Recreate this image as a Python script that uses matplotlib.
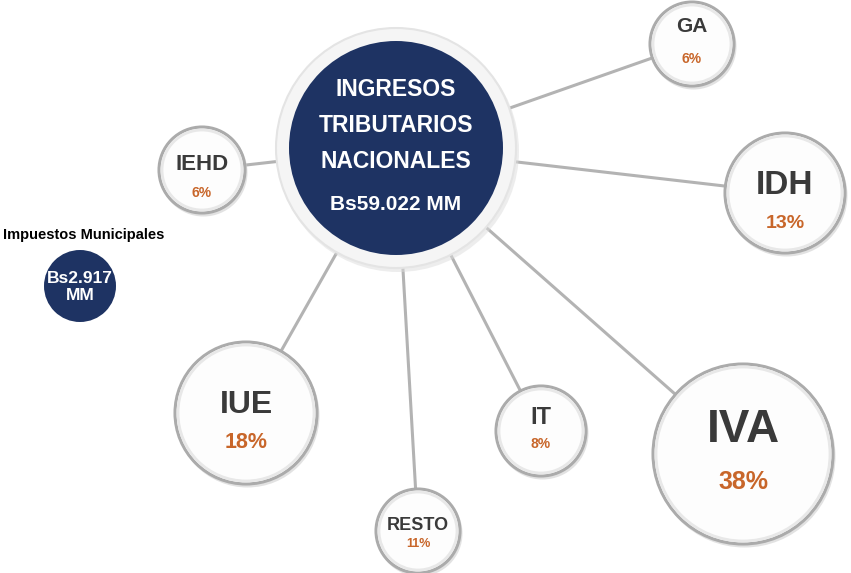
import matplotlib
matplotlib.use("Agg")
import matplotlib.pyplot as plt
from matplotlib.patches import Circle
from matplotlib import font_manager

names = {f.name for f in font_manager.fontManager.ttflist}
FAM = ['Liberation Sans Narrow', 'DejaVu Sans'] if 'Liberation Sans Narrow' in names else ['Liberation Sans', 'DejaVu Sans']
NARROW = 'Liberation Sans Narrow' in names

# data
categories = ["GA", "IEHD", "IDH", "IUE", "RESTO", "IT", "IVA"]
shares = ["6%", "6%", "13%", "18%", "11%", "8%", "38%"]
center_title = ["INGRESOS", "TRIBUTARIOS", "NACIONALES"]
center_value = "Bs59.022 MM"
muni_title = "Impuestos Municipales"
muni_value = "Bs2.917\nMM"

# layout (pixel coords): x, y, radius, label dy, share dy
pos = {"GA": (692, 44, 42, -18, 15), "IEHD": (202, 170, 43, -6, 23),
       "IDH": (785, 193, 60, -7, 30), "IUE": (246, 413, 71, -8, 30),
       "RESTO": (418, 531, 42, -6, 13), "IT": (541, 431, 45, -14, 13),
       "IVA": (743, 454, 90, -24, 28)}
fs = {"GA": (15, 10), "IEHD": (16, 10), "IDH": (24, 14), "IUE": (23, 15.5),
      "RESTO": (13, 9), "IT": (17, 10), "IVA": (33, 18)}
if NARROW:
    fs = {k: (a * 1.2, b * 1.2) for k, (a, b) in fs.items()}
main = (396, 148, 107)

NAVY = "#1e3363"
ORANGE = "#c8662a"
DARK = "#3a3a3a"

fig = plt.figure(figsize=(8.51, 5.73), dpi=100)
ax = fig.add_axes([0, 0, 1, 1])
ax.set_xlim(0, 851)
ax.set_ylim(573, 0)
ax.set_aspect('equal')
ax.axis('off')

# connectors
for c in categories:
    x, y = pos[c][:2]
    ax.plot([main[0], x], [main[1], y], color="#b3b3b3", lw=2.2, zorder=1, solid_capstyle='butt')

# main circle
mx, my, mr = main
ax.add_patch(Circle((mx + 2, my + 3), mr + 14, color="#dcdcdc", alpha=0.5, zorder=2, lw=0))
ax.add_patch(Circle((mx, my), mr + 13, facecolor="#f5f5f5", edgecolor="#e4e4e4", lw=1.5, zorder=3))
ax.add_patch(Circle((mx, my), mr, facecolor=NAVY, edgecolor="none", zorder=4))
for line, yy in zip(center_title, [90, 126, 161]):
    ax.text(mx, yy, line, ha='center', va='center', color='white', fontsize=16.5,
            fontweight='bold', family=FAM, zorder=5)
ax.text(mx, 205, center_value, ha='center', va='center', color='white', fontsize=15,
        fontweight='bold', family=FAM, zorder=5)

# bubbles
for c, s in zip(categories, shares):
    x, y, r, d1, d2 = pos[c]
    f1, f2 = fs[c]
    ax.add_patch(Circle((x + 1.5, y + 2.5), r + 1, color="#cfcfcf", alpha=0.6, zorder=2, lw=0))
    ax.add_patch(Circle((x, y), r, facecolor="#fdfdfd", edgecolor="#ababab", lw=2.2, zorder=3))
    ax.add_patch(Circle((x, y), r - 3, facecolor="none", edgecolor="#e8e8e8", lw=2.0, zorder=3))
    ax.text(x, y + d1, c, ha='center', va='center', color=DARK, fontsize=f1,
            fontweight='bold', family=FAM, zorder=5)
    ax.text(x, y + d2, s, ha='center', va='center', color=ORANGE, fontsize=f2,
            fontweight='bold', family=FAM, zorder=5)

# municipal
ax.text(84, 235, muni_title, ha='center', va='center', color='black', fontsize=10.5,
        fontweight='bold', family=FAM)
ax.add_patch(Circle((80, 286), 36, facecolor=NAVY, edgecolor='none', zorder=4))
ax.text(80, 287, muni_value, ha='center', va='center', color='white', fontsize=12.5,
        fontweight='bold', family=FAM, linespacing=1.1, zorder=5)

fig.savefig("out.png", dpi=100, facecolor='white')
